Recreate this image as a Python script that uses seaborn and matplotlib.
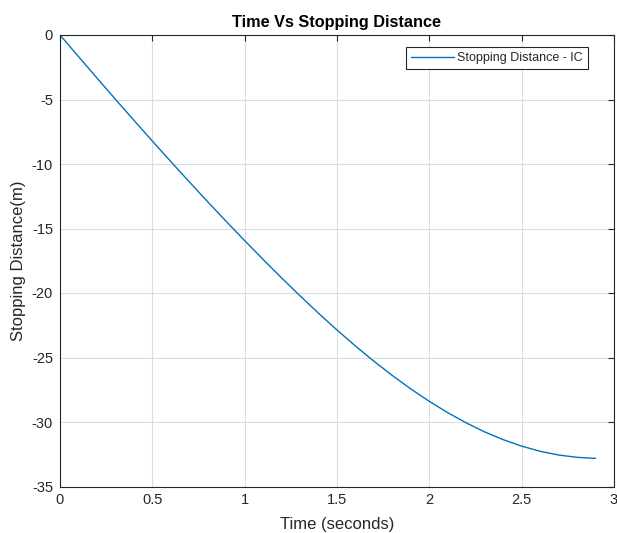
import matplotlib
matplotlib.use("Agg")
import matplotlib.pyplot as plt
import seaborn as sns

# values
time_s = [0.0, 0.1, 0.2, 0.3, 0.4, 0.5, 0.6, 0.7, 0.8, 0.9, 1.0,
          1.1, 1.2, 1.3, 1.4, 1.5, 1.6, 1.7, 1.8, 1.9, 2.0,
          2.1, 2.2, 2.3, 2.4, 2.5, 2.6, 2.7, 2.8, 2.9]
stop_dist = [0.0, -1.67, -3.33, -4.98, -6.61, -8.22, -9.81, -11.38, -12.93,
             -14.45, -15.94, -17.40, -18.83, -20.22, -21.57, -22.87, -24.11,
             -25.29, -26.40, -27.44, -28.40, -29.28, -30.07, -30.77, -31.37,
             -31.87, -32.27, -32.56, -32.74, -32.82]
x_ticks = [0, 0.5, 1, 1.5, 2, 2.5, 3]
x_tick_labels = ["0", "0.5", "1", "1.5", "2", "2.5", "3"]
y_ticks = [-35, -30, -25, -20, -15, -10, -5, 0]

sns.set_style("whitegrid")
plt.rcParams["font.family"] = ["Liberation Sans", "DejaVu Sans"]
plt.rcParams["axes.unicode_minus"] = False

fig = plt.figure(figsize=(6.17, 5.33), dpi=100)
ax = fig.add_axes([60 / 617, 1 - 486.5 / 533, 554 / 617, 451.5 / 533])

sns.lineplot(x=time_s, y=stop_dist, ax=ax, color="#0072BD", linewidth=1.0,
             label="Stopping Distance - IC")

ax.set_xlim(0, 3)
ax.set_ylim(-35, 0)
ax.set_xticks(x_ticks)
ax.set_xticklabels(x_tick_labels)
ax.set_yticks(y_ticks)
ax.grid(True, color="#dcdcdc", linewidth=0.8)
for side in ax.spines.values():
    side.set_color("#262626")
    side.set_linewidth(0.8)
ax.tick_params(direction="in", length=4, width=0.8, color="#262626",
               top=True, right=True, labelsize=10.5, labelcolor="#262626", pad=5)

ax.set_title("Time Vs Stopping Distance", fontsize=11.7, fontweight="bold",
             color="#000000", pad=6)
ax.set_xlabel("Time (seconds)", fontsize=12, color="#262626", labelpad=7)
ax.set_ylabel("Stopping Distance(m)", fontsize=12, color="#262626", labelpad=4)

leg = ax.legend(loc="upper right", fontsize=9, frameon=True, fancybox=False,
                borderpad=0.4, handlelength=3.4, handletextpad=0.3,
                borderaxespad=0, bbox_to_anchor=(0.953, 0.973))
leg.get_frame().set_edgecolor("#262626")
leg.get_frame().set_linewidth(0.8)
leg.get_frame().set_alpha(1)

fig.savefig("out.png", dpi=100)
